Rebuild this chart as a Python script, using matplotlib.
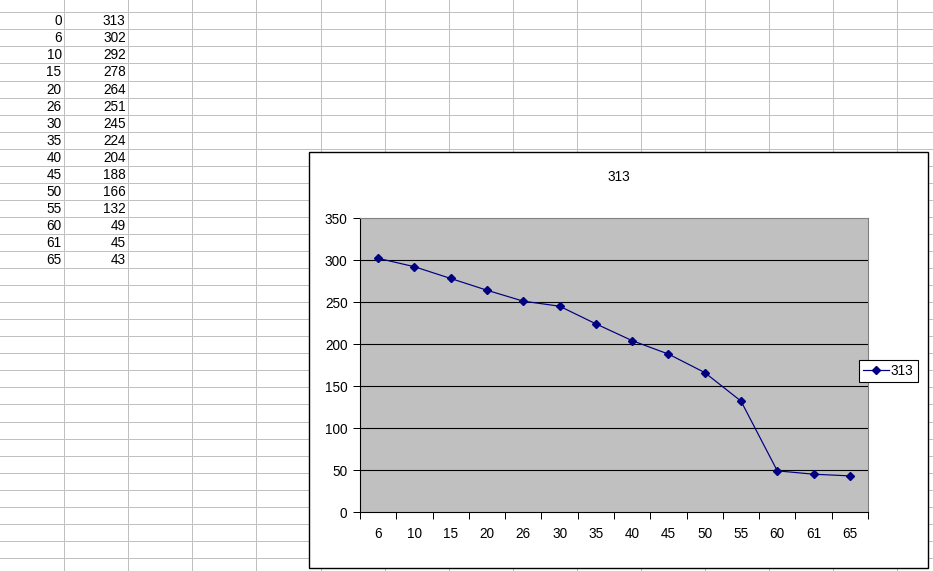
import matplotlib.pyplot as plt
from matplotlib.patches import Rectangle

plt.rcParams['font.family'] = ['Liberation Sans', 'DejaVu Sans']

# cell contents of columns A and B
col_a = [0, 6, 10, 15, 20, 26, 30, 35, 40, 45, 50, 55, 60, 61, 65]
col_b = [313, 302, 292, 278, 264, 251, 245, 224, 204, 188, 166, 132, 49, 45, 43]

# chart: first row is the series name, the rest are the points
series_name = str(col_b[0])
categories = [str(v) for v in col_a[1:]]
values = col_b[1:]
y_ticks = [0, 50, 100, 150, 200, 250, 300, 350]

W, H = 933, 571
PX = 0.72  # one pixel in points at dpi 100
fs = 9.8
fig = plt.figure(figsize=(W / 100, H / 100), dpi=100)

# %% spreadsheet background, in pixel coordinates
bg = fig.add_axes([0, 0, 1, 1])
bg.set_xlim(0, W)
bg.set_ylim(H, 0)
bg.axis('off')

grid_c = '#c0c0c0'
col_w = 64.1
row_h = 17.05
row0 = 12.3

x = col_w
while x < W:
    bg.plot([x, x], [0, H], color=grid_c, lw=PX)
    x += col_w
y = row0
while y < H:
    bg.plot([0, W], [y, y], color=grid_c, lw=PX)
    y += row_h

for i, (a, b) in enumerate(zip(col_a, col_b)):
    yc = row0 + row_h * (i + 0.5) + 0.5
    bg.text(col_w - 2.5, yc, str(a), ha='right', va='center', fontsize=fs)
    bg.text(2 * col_w - 2.5, yc, str(b), ha='right', va='center', fontsize=fs)

# chart area
bg.add_patch(Rectangle((309, 152), 619, 416, facecolor='white', edgecolor='black', lw=1.0, zorder=5))
bg.text(618.5, 177, series_name, ha='center', va='center', fontsize=fs, zorder=6)

# %% plot area
px0, px1, py0, py1 = 360, 868, 218, 512
ax = fig.add_axes([px0 / W, 1 - py1 / H, (px1 - px0) / W, (py1 - py0) / H])
ax.set_facecolor('#c0c0c0')

xs = range(len(categories))
line, = ax.plot(xs, values, color='#000080', lw=PX * 1.2, marker='D', markersize=4,
                label=series_name, zorder=3)

ax.set_xlim(-0.5, len(categories) - 0.5)
ax.set_ylim(0, 350)
ax.set_yticks(y_ticks)
for v in y_ticks[1:-1]:
    ax.axhline(v, color='black', lw=PX * 1.1, zorder=1)

ax.set_xticks([i - 0.5 for i in range(len(categories) + 1)])
ax.set_xticklabels([])
ax.set_xticks(list(xs), minor=True)
ax.set_xticklabels(categories, minor=True)
ax.tick_params(axis='x', which='major', direction='out', length=5, width=PX)
ax.tick_params(axis='x', which='minor', length=0, pad=11, labelsize=fs)
ax.tick_params(axis='y', direction='out', length=5, width=PX, pad=4, labelsize=fs)

for s in ['top', 'right']:
    ax.spines[s].set_color('#808080')
for s in ['left', 'bottom']:
    ax.spines[s].set_color('black')
for s in ax.spines.values():
    s.set_linewidth(PX * 1.1)

leg = fig.legend(handles=[line], loc='center left',
                 bbox_to_anchor=(859 / W, 1 - 371 / H), fontsize=fs,
                 frameon=True, fancybox=False, edgecolor='black', framealpha=1,
                 borderpad=0.3, handlelength=1.9, handletextpad=0.15,
                 borderaxespad=0)
leg.get_frame().set_linewidth(PX * 1.1)

fig.savefig('out.png', dpi=100)
